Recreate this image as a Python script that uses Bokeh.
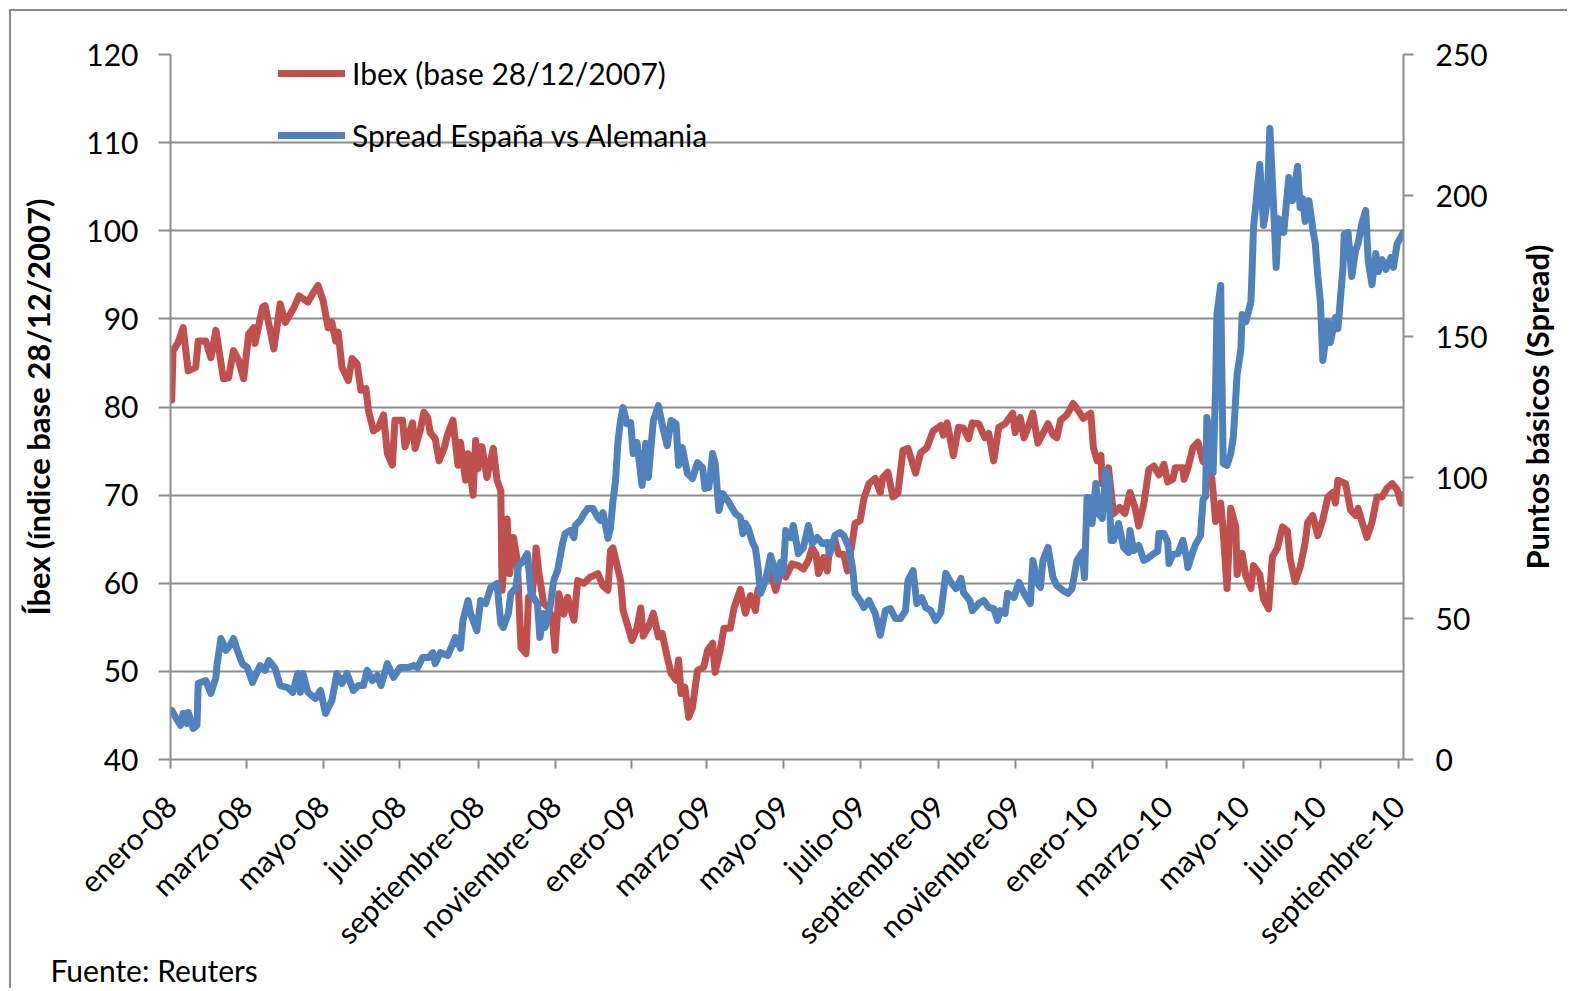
import math
from datetime import datetime
from bokeh.plotting import figure
from bokeh.models import (Range1d, LinearAxis, FixedTicker, Legend, LegendItem, Title,
                          ColumnDataSource)
from bokeh.embed import file_html
from bokeh.resources import INLINE

# ---------------- data ----------------
ibex_dates = ["2008-01-02","2008-01-03","2008-01-07","2008-01-11","2008-01-15","2008-01-21","2008-01-23","2008-01-29","2008-02-02","2008-02-06","2008-02-12","2008-02-16","2008-02-20","2008-02-24","2008-02-28","2008-03-03","2008-03-07","2008-03-08","2008-03-14","2008-03-16","2008-03-23","2008-03-28","2008-04-01","2008-04-08","2008-04-12","2008-04-19","2008-04-23","2008-04-27","2008-05-01","2008-05-05","2008-05-08","2008-05-11","2008-05-13","2008-05-16","2008-05-21","2008-05-24","2008-05-28","2008-05-31","2008-06-04","2008-06-06","2008-06-10","2008-06-14","2008-06-18","2008-06-21","2008-06-25","2008-06-27","2008-07-03","2008-07-05","2008-07-11","2008-07-13","2008-07-17","2008-07-20","2008-07-23","2008-07-25","2008-07-29","2008-08-01","2008-08-05","2008-08-08","2008-08-12","2008-08-16","2008-08-18","2008-08-22","2008-08-24","2008-08-28","2008-08-30","2008-09-01","2008-09-04","2008-09-08","2008-09-13","2008-09-16","2008-09-19","2008-09-20","2008-09-24","2008-09-26","2008-09-29","2008-10-02","2008-10-05","2008-10-09","2008-10-11","2008-10-14","2008-10-17","2008-10-19","2008-10-23","2008-10-27","2008-10-30","2008-11-01","2008-11-04","2008-11-08","2008-11-11","2008-11-16","2008-11-19","2008-11-24","2008-11-29","2008-12-05","2008-12-09","2008-12-13","2008-12-15","2008-12-17","2008-12-23","2008-12-25","2008-12-29","2009-01-01","2009-01-05","2009-01-08","2009-01-10","2009-01-14","2009-01-18","2009-01-22","2009-01-25","2009-01-29","2009-02-01","2009-02-05","2009-02-07","2009-02-09","2009-02-12","2009-02-15","2009-02-18","2009-02-22","2009-02-27","2009-03-02","2009-03-06","2009-03-08","2009-03-12","2009-03-15","2009-03-20","2009-03-23","2009-03-28","2009-04-01","2009-04-05","2009-04-09","2009-04-11","2009-04-17","2009-04-21","2009-04-25","2009-04-29","2009-05-03","2009-05-08","2009-05-13","2009-05-17","2009-05-21","2009-05-24","2009-05-27","2009-05-29","2009-06-02","2009-06-05","2009-06-07","2009-06-11","2009-06-14","2009-06-18","2009-06-21","2009-06-25","2009-06-27","2009-07-01","2009-07-04","2009-07-08","2009-07-13","2009-07-17","2009-07-19","2009-07-23","2009-07-27","2009-07-31","2009-08-04","2009-08-08","2009-08-14","2009-08-18","2009-08-23","2009-08-28","2009-09-03","2009-09-05","2009-09-08","2009-09-13","2009-09-17","2009-09-21","2009-09-25","2009-09-28","2009-10-03","2009-10-08","2009-10-11","2009-10-15","2009-10-19","2009-10-24","2009-10-30","2009-11-01","2009-11-05","2009-11-08","2009-11-11","2009-11-15","2009-11-19","2009-11-27","2009-12-01","2009-12-04","2009-12-07","2009-12-12","2009-12-17","2009-12-21","2009-12-25","2009-12-31","2010-01-02","2010-01-05","2010-01-08","2010-01-09","2010-01-14","2010-01-18","2010-01-23","2010-01-27","2010-01-31","2010-02-04","2010-02-07","2010-02-11","2010-02-15","2010-02-19","2010-02-23","2010-02-27","2010-03-02","2010-03-06","2010-03-08","2010-03-14","2010-03-15","2010-03-18","2010-03-22","2010-03-26","2010-03-30","2010-04-02","2010-04-06","2010-04-09","2010-04-13","2010-04-15","2010-04-18","2010-04-21","2010-04-25","2010-04-26","2010-04-30","2010-05-03","2010-05-07","2010-05-09","2010-05-14","2010-05-17","2010-05-21","2010-05-24","2010-05-28","2010-06-01","2010-06-05","2010-06-07","2010-06-11","2010-06-15","2010-06-19","2010-06-21","2010-06-25","2010-06-29","2010-07-03","2010-07-07","2010-07-11","2010-07-13","2010-07-15","2010-07-21","2010-07-25","2010-07-29","2010-07-31","2010-08-03","2010-08-07","2010-08-11","2010-08-15","2010-08-19","2010-08-23","2010-08-27","2010-08-31","2010-09-03","2010-09-05"]
ibex_values = [80.8,86.4,87.3,89.0,84.1,84.5,87.5,87.5,85.6,88.7,83.2,83.3,86.4,85.3,83.2,88.3,89.0,87.2,91.3,91.5,86.6,91.7,89.6,91.3,92.6,91.9,92.9,93.8,92.1,89.0,89.6,87.5,88.5,84.5,83.0,85.5,84.9,81.9,82.1,79.6,77.3,77.7,79.1,74.7,73.4,78.5,78.5,75.5,78.2,75.3,77.3,79.4,78.8,77.1,76.4,73.9,75.3,77.0,78.5,73.4,76.0,71.7,74.7,70.0,76.2,73.0,75.5,72.0,75.3,71.7,70.5,59.2,67.3,61.1,65.2,62.6,52.7,52.0,58.4,58.8,64.0,61.4,57.7,57.2,55.8,52.4,58.8,56.5,58.4,55.8,60.3,60.0,60.7,61.1,59.7,59.2,63.7,64.0,60.3,56.9,55.0,53.5,54.9,57.2,54.0,55.0,56.6,53.9,54.3,51.6,49.8,49.0,51.3,47.5,48.2,44.8,45.9,50.1,50.5,52.4,53.2,49.9,52.4,54.9,54.9,57.2,59.3,56.6,58.6,56.9,59.3,60.3,61.2,59.2,61.4,60.7,62.2,62.0,61.6,62.6,64.0,63.3,61.1,62.9,61.4,64.5,64.9,63.3,63.3,61.4,64.9,66.8,67.1,69.6,71.3,71.9,70.3,72.0,72.6,69.8,70.2,75.1,75.3,72.5,74.8,75.4,77.3,77.9,76.8,78.2,74.5,77.7,77.6,76.4,78.2,78.1,76.5,77.0,73.9,77.7,78.1,79.3,77.1,78.8,76.5,77.6,79.3,75.9,78.1,76.8,76.5,78.5,79.1,80.4,79.6,78.7,79.3,75.4,73.9,74.5,71.3,73.1,67.9,68.6,67.9,70.3,68.6,66.5,69.0,72.9,73.3,72.3,73.5,71.5,71.8,73.1,73.1,71.8,73.1,75.4,76.0,73.8,73.5,71.9,67.0,69.1,65.9,59.4,68.5,66.4,61.0,63.4,60.8,59.4,62.0,61.0,58.2,57.1,63.0,64.0,66.4,65.9,62.8,60.2,61.8,64.6,66.9,67.7,65.4,67.2,69.8,70.3,69.1,71.7,71.3,68.3,67.7,68.5,67.0,65.2,66.9,69.8,69.8,70.8,71.3,70.6,69.1,70.1]

spread_dates = ["2008-01-02","2008-01-05","2008-01-09","2008-01-11","2008-01-14","2008-01-15","2008-01-19","2008-01-22","2008-01-23","2008-01-29","2008-02-02","2008-02-06","2008-02-07","2008-02-10","2008-02-14","2008-02-18","2008-02-20","2008-02-23","2008-02-27","2008-03-02","2008-03-06","2008-03-12","2008-03-16","2008-03-19","2008-03-24","2008-03-28","2008-04-03","2008-04-07","2008-04-11","2008-04-13","2008-04-15","2008-04-19","2008-04-25","2008-04-29","2008-05-03","2008-05-08","2008-05-12","2008-05-16","2008-05-20","2008-05-25","2008-05-29","2008-06-02","2008-06-05","2008-06-09","2008-06-13","2008-06-16","2008-06-21","2008-06-26","2008-07-01","2008-07-07","2008-07-12","2008-07-15","2008-07-19","2008-07-24","2008-07-27","2008-07-29","2008-08-02","2008-08-08","2008-08-12","2008-08-14","2008-08-18","2008-08-20","2008-08-24","2008-08-26","2008-08-31","2008-09-03","2008-09-07","2008-09-11","2008-09-16","2008-09-19","2008-09-21","2008-09-25","2008-09-27","2008-10-01","2008-10-03","2008-10-06","2008-10-10","2008-10-13","2008-10-15","2008-10-18","2008-10-20","2008-10-23","2008-10-24","2008-10-28","2008-10-31","2008-11-03","2008-11-07","2008-11-09","2008-11-13","2008-11-16","2008-11-17","2008-11-21","2008-11-24","2008-11-27","2008-12-01","2008-12-05","2008-12-07","2008-12-09","2008-12-13","2008-12-15","2008-12-17","2008-12-19","2008-12-21","2008-12-23","2008-12-25","2008-12-28","2008-12-31","2009-01-02","2009-01-05","2009-01-09","2009-01-12","2009-01-14","2009-01-18","2009-01-22","2009-01-26","2009-01-29","2009-02-01","2009-02-05","2009-02-07","2009-02-10","2009-02-14","2009-02-18","2009-02-22","2009-02-26","2009-02-28","2009-03-03","2009-03-06","2009-03-08","2009-03-11","2009-03-14","2009-03-19","2009-03-24","2009-03-28","2009-03-30","2009-04-01","2009-04-03","2009-04-07","2009-04-09","2009-04-11","2009-04-13","2009-04-17","2009-04-21","2009-04-23","2009-04-26","2009-04-29","2009-05-01","2009-05-03","2009-05-07","2009-05-09","2009-05-13","2009-05-17","2009-05-21","2009-05-24","2009-05-28","2009-06-01","2009-06-05","2009-06-07","2009-06-11","2009-06-15","2009-06-18","2009-06-22","2009-06-25","2009-06-27","2009-07-01","2009-07-04","2009-07-08","2009-07-13","2009-07-17","2009-07-21","2009-07-25","2009-07-29","2009-08-02","2009-08-06","2009-08-08","2009-08-12","2009-08-15","2009-08-19","2009-08-22","2009-08-26","2009-08-30","2009-09-03","2009-09-07","2009-09-11","2009-09-15","2009-09-19","2009-09-21","2009-09-26","2009-09-28","2009-10-03","2009-10-07","2009-10-11","2009-10-15","2009-10-18","2009-10-20","2009-10-24","2009-10-26","2009-10-31","2009-11-04","2009-11-08","2009-11-13","2009-11-15","2009-11-19","2009-11-21","2009-11-23","2009-11-27","2009-12-01","2009-12-04","2009-12-09","2009-12-13","2009-12-16","2009-12-20","2009-12-24","2009-12-26","2009-12-28","2009-12-29","2010-01-01","2010-01-04","2010-01-06","2010-01-09","2010-01-12","2010-01-14","2010-01-16","2010-01-18","2010-01-22","2010-01-26","2010-01-30","2010-01-31","2010-02-03","2010-02-07","2010-02-11","2010-02-14","2010-02-18","2010-02-22","2010-02-23","2010-02-27","2010-03-02","2010-03-03","2010-03-06","2010-03-10","2010-03-14","2010-03-17","2010-03-18","2010-03-22","2010-03-24","2010-03-28","2010-03-30","2010-04-01","2010-04-02","2010-04-05","2010-04-07","2010-04-09","2010-04-10","2010-04-13","2010-04-14","2010-04-15","2010-04-18","2010-04-21","2010-04-23","2010-04-25","2010-04-26","2010-04-29","2010-04-30","2010-05-03","2010-05-07","2010-05-08","2010-05-09","2010-05-12","2010-05-14","2010-05-17","2010-05-20","2010-05-22","2010-05-25","2010-05-27","2010-05-29","2010-06-02","2010-06-06","2010-06-09","2010-06-13","2010-06-15","2010-06-17","2010-06-19","2010-06-22","2010-06-25","2010-06-27","2010-06-29","2010-07-01","2010-07-03","2010-07-07","2010-07-09","2010-07-13","2010-07-15","2010-07-19","2010-07-20","2010-07-23","2010-07-26","2010-07-29","2010-07-31","2010-08-03","2010-08-06","2010-08-08","2010-08-11","2010-08-14","2010-08-16","2010-08-19","2010-08-22","2010-08-26","2010-08-28","2010-08-31","2010-09-05"]
spread_values = [17.4,15.0,12.1,16.3,12.8,16.7,11.0,12.1,27.0,28.0,23.4,29.1,34.0,42.9,38.7,41.1,42.9,38.7,34.0,32.6,27.3,33.3,31.6,35.1,32.3,26.2,25.5,23.8,30.5,23.8,30.5,23.8,21.6,24.5,16.3,20.9,30.5,27.0,30.5,24.5,26.2,26.2,31.6,28.0,29.8,26.2,34.0,29.1,32.6,32.6,33.3,32.6,36.2,36.2,37.9,34.0,37.9,36.9,41.1,43.3,39.4,49.3,56.4,51.8,45.7,56.4,55.3,61.0,62.4,48.2,46.8,51.8,58.9,61.0,68.8,69.9,73.0,58.9,57.4,55.3,43.3,51.8,46.8,53.9,63.5,67.0,76.6,80.1,81.2,78.7,83.0,84.8,87.2,89.0,89.0,85.8,84.8,87.6,78.4,82.3,91.8,98.9,113.1,120.2,124.8,119.1,119.5,108.5,112.4,97.2,112.1,100.0,120.2,125.5,116.7,111.3,120.2,119.1,104.3,110.6,101.4,99.6,105.3,103.5,96.1,96.5,108.5,105.0,88.3,94.3,91.1,87.2,85.8,80.1,83.7,82.3,76.6,74.8,68.1,58.9,63.5,72.3,69.5,63.5,69.9,66.0,81.2,78.7,83.0,73.0,75.2,83.0,76.6,78.7,76.6,77.0,73.0,79.4,80.5,79.4,75.2,68.1,58.9,56.4,53.9,56.4,51.8,44.0,52.8,53.5,50.0,50.0,52.8,63.5,67.0,55.3,57.4,53.9,52.8,49.3,52.1,66.0,62.8,60.6,64.2,59.2,56.4,52.8,55.3,56.4,53.9,53.5,49.3,52.8,51.8,58.9,57.4,62.8,58.9,55.3,70.6,62.4,61.0,70.6,75.2,64.5,61.7,59.9,58.9,60.6,70.6,73.4,64.5,92.9,92.9,83.7,97.9,87.2,85.5,102.5,100.0,77.7,77.7,83.7,75.2,73.4,81.2,74.1,75.9,70.6,71.3,72.7,73.8,80.1,80.1,77.0,69.5,72.7,73.0,77.7,71.3,68.1,73.8,76.2,79.4,92.2,93.3,121.3,112.4,101.8,132.6,157.8,168.1,135.1,105.0,104.3,108.5,114.2,128.7,136.5,145.4,157.8,155.3,162.4,174.5,188.3,202.1,211.0,189.4,198.2,223.8,195.7,174.5,191.8,186.9,206.4,198.2,210.3,195.7,198.9,190.8,198.2,188.3,183.0,171.6,162.8,141.5,155.3,147.9,156.7,152.8,174.5,186.2,186.9,171.3,180.5,183.0,190.1,194.7,176.9,168.4,179.4,173.0,177.3,173.8,178.0,174.5,183.0,186.9]

x_tick_dates = ["2008-01-01","2008-03-01","2008-05-01","2008-07-01","2008-09-01","2008-11-01",
                "2009-01-01","2009-03-01","2009-05-01","2009-07-01","2009-09-01","2009-11-01",
                "2010-01-01","2010-03-01","2010-05-01","2010-07-01","2010-09-01"]
x_tick_labels = ["enero-08","marzo-08","mayo-08","julio-08","septiembre-08","noviembre-08",
                 "enero-09","marzo-09","mayo-09","julio-09","septiembre-09","noviembre-09",
                 "enero-10","marzo-10","mayo-10","julio-10","septiembre-10"]
left_ticks = [40, 50, 60, 70, 80, 90, 100, 110, 120]
right_ticks = [0, 50, 100, 150, 200, 250]

series_names = ["Ibex (base 28/12/2007)", "Spread España vs Alemania"]
left_title = "Íbex (índice base 28/12/2007)"
right_title = "Puntos básicos (Spread)"
source_note = "Fuente: Reuters"

# ---------------- helpers ----------------
def to_dt(s):
    return datetime.strptime(s, "%Y-%m-%d")

EPOCH = datetime(1970, 1, 1)
def to_ms(s):
    return (to_dt(s) - EPOCH).total_seconds() * 1000.0

RED = "#C0504D"
BLUE = "#4F81BD"
GRID = "#8C8C8C"
FONT = "Lato"

# ---------------- main figure ----------------
p = figure(width=1558, height=979, x_axis_type="datetime",
           x_range=Range1d(to_dt("2008-01-01"), to_dt("2010-09-05")),
           y_range=Range1d(40, 120),
           output_backend="svg", toolbar_location=None,
           min_border_left=159, min_border_right=166, min_border_top=43, min_border_bottom=231,
           background_fill_color="white", border_fill_color="white")
# outer chart-area frame: only its top and left edges are visible in the window
p.styles = {"margin-left": "11px", "margin-top": "11px",
            "box-shadow": "-2px -2px 0 0 #8A8A8A"}
p.outline_line_color = None
p.extra_y_ranges = {"right": Range1d(0, 250)}

src_ibex = ColumnDataSource(dict(x=[to_dt(d) for d in ibex_dates], y=ibex_values))
src_spread = ColumnDataSource(dict(x=[to_dt(d) for d in spread_dates], y=spread_values))

r_ibex = p.line("x", "y", source=src_ibex, line_color=RED, line_width=7,
                line_join="round", line_cap="round")
r_spread = p.line("x", "y", source=src_spread, line_color=BLUE, line_width=7,
                  line_join="round", line_cap="round", y_range_name="right")

# grid
p.xgrid.visible = False
p.ygrid.ticker = FixedTicker(ticks=left_ticks)
p.ygrid.grid_line_color = GRID
p.ygrid.grid_line_width = 2

def style_axis(ax, tick_out):
    ax.axis_line_color = GRID
    ax.axis_line_width = 2
    ax.major_tick_line_color = GRID
    ax.major_tick_line_width = 2
    ax.major_tick_in = 0
    ax.major_tick_out = tick_out
    ax.minor_tick_line_color = None
    ax.major_label_text_font = FONT
    ax.major_label_text_font_size = "30px"
    ax.major_label_text_color = "black"
    ax.axis_label_text_font = FONT
    ax.axis_label_text_font_size = "31px"
    ax.axis_label_text_font_style = "bold"
    ax.axis_label_text_color = "black"

# x axis
xax = p.xaxis[0]
style_axis(xax, 9)
xax.ticker = FixedTicker(ticks=[to_ms(d) for d in x_tick_dates])
xax.major_label_overrides = {to_ms(d): lab for d, lab in zip(x_tick_dates, x_tick_labels)}
xax.major_label_orientation = math.pi / 4
xax.major_label_standoff = 32

# left axis
yax = p.yaxis[0]
style_axis(yax, 12)
yax.ticker = FixedTicker(ticks=left_ticks)
yax.major_label_standoff = 20
yax.axis_label = left_title
yax.axis_label_standoff = 26

# right axis (its title is drawn by the small companion panel below)
rax = LinearAxis(y_range_name="right", ticker=FixedTicker(ticks=right_ticks))
style_axis(rax, 10)
rax.major_label_standoff = 22
p.add_layout(rax, "right")

# legend
legend = Legend(items=[LegendItem(label=series_names[0], renderers=[r_ibex]),
                       LegendItem(label=series_names[1], renderers=[r_spread])],
                location=(104, 602), orientation="vertical", padding=4, margin=0,
                spacing=26, glyph_width=67, glyph_height=30, label_height=30,
                label_standoff=7, label_text_font=FONT, label_text_font_size="30px",
                label_text_color="black",
                background_fill_alpha=0, border_line_alpha=0)
p.add_layout(legend)

# source note (as a title in the bottom panel)
note = Title(text=source_note, align="left", offset=-120, standoff=-32,
             text_font=FONT, text_font_size="30px", text_font_style="normal",
             text_color="black")
p.add_layout(note, "below")

# ---------------- right axis title (bottom-to-top, centred on the plot area) ----------------
pt = figure(width=48, height=705, toolbar_location=None, output_backend="svg",
            x_range=Range1d(0, 1), y_range=Range1d(0, 1), min_border=0)
pt.title.visible = False
pt.axis.visible = False
pt.grid.visible = False
pt.outline_line_color = None
pt.background_fill_alpha = 0
pt.border_fill_alpha = 0
pt.add_layout(Title(text=right_title, align="center", standoff=0,
                    text_font=FONT, text_font_size="31px", text_font_style="bold",
                    text_color="black"), "left")
pt.styles = {"position": "absolute", "left": "1515px", "top": "54px"}

open("out.html", "w").write(file_html([p, pt], INLINE))
